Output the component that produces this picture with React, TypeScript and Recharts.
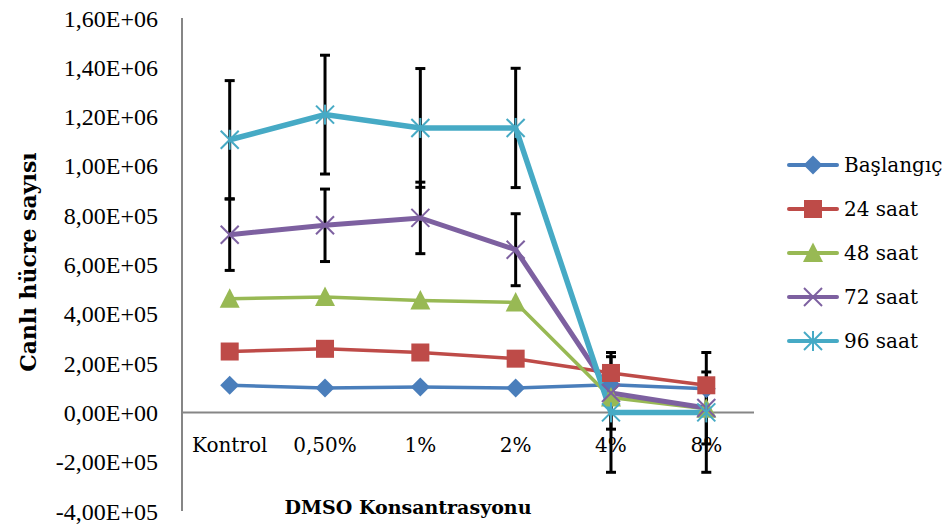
import { LineChart, Line, XAxis, YAxis, ErrorBar, ReferenceLine } from 'recharts';

// ---------------------------------------------------------------------------
// Data
// ---------------------------------------------------------------------------

const categories = ['Kontrol', '0,50%', '1%', '2%', '4%', '8%'];

const baslangic = [110000, 99000, 103000, 99000, 112000, 96000];
const saat24 = [247000, 258000, 243000, 218000, 160000, 110000];
const saat48 = [461000, 468000, 454000, 446000, 60000, 15000];
const saat72 = [721000, 759000, 789000, 660000, 79000, 18000];
const saat96 = [1106000, 1208000, 1154000, 1154000, 0, 0];

// standard deviations (only the 72 h and 96 h series carry error bars)
const sd72 = [145000, 147000, 145000, 146000, 147000, 146000];
const sd96 = [240000, 241000, 241000, 242000, 243000, 243000];

const yTicks = [-400000, -200000, 0, 200000, 400000, 600000, 800000, 1000000, 1200000, 1400000, 1600000];

// ---------------------------------------------------------------------------
// Layout
// ---------------------------------------------------------------------------

const W = 949;
const H = 526;
const X_AXIS_H = 1;
const MARGIN = { top: 18, right: 195, bottom: 14, left: 0 };
const Y_AXIS_W = 182;
const Y_MIN = -400000;
const Y_MAX = 1600000;
const PLOT_H = H - MARGIN.top - MARGIN.bottom - X_AXIS_H;

const TEXT_FONT = '"DejaVu Serif", serif';
const NUM_FONT = '"Liberation Serif", serif';

type MarkerKind = 'diamond' | 'square' | 'triangle' | 'x' | 'star';

interface SeriesDef {
  key: string;
  name: string;
  color: string;
  width: number;
  marker: MarkerKind;
  values: number[];
  sd?: number[];
}

const series: SeriesDef[] = [
  { key: 'b0', name: 'Başlangıç', color: '#4A7EBB', width: 3.5, marker: 'diamond', values: baslangic },
  { key: 'h24', name: '24 saat', color: '#BE4B48', width: 3.5, marker: 'square', values: saat24 },
  { key: 'h48', name: '48 saat', color: '#98B954', width: 3.5, marker: 'triangle', values: saat48 },
  { key: 'h72', name: '72 saat', color: '#7D60A0', width: 5, marker: 'x', values: saat72, sd: sd72 },
  { key: 'h96', name: '96 saat', color: '#46AAC5', width: 5.5, marker: 'star', values: saat96, sd: sd96 },
];

const data = categories.map((conc, i) => {
  const row: Record<string, string | number> = { conc };
  series.forEach(s => {
    row[s.key] = s.values[i];
    if (s.sd) row[`${s.key}_sd`] = s.sd[i];
  });
  return row;
});

// ---------------------------------------------------------------------------
// Helpers
// ---------------------------------------------------------------------------

// Excel style scientific label: 1,60E+06
function formatSci(v: number): string {
  if (v === 0) return '0,00E+00';
  const exp = Math.floor(Math.log10(Math.abs(v)));
  const mant = v / Math.pow(10, exp);
  const sign = exp < 0 ? '-' : '+';
  return `${mant.toFixed(2).replace('.', ',')}E${sign}${String(Math.abs(exp)).padStart(2, '0')}`;
}

function Marker({ kind, cx, cy, color }: { kind: MarkerKind; cx: number; cy: number; color: string }) {
  switch (kind) {
    case 'diamond':
      return <polygon points={`${cx},${cy - 9.5} ${cx + 9.5},${cy} ${cx},${cy + 9.5} ${cx - 9.5},${cy}`} fill={color} />;
    case 'square':
      return <rect x={cx - 9} y={cy - 9} width={18} height={18} fill={color} />;
    case 'triangle':
      return <polygon points={`${cx},${cy - 10.5} ${cx + 10},${cy + 9} ${cx - 10},${cy + 9}`} fill={color} />;
    case 'x':
      return (
        <g stroke={color} strokeWidth={2}>
          <line x1={cx - 9} y1={cy - 9} x2={cx + 9} y2={cy + 9} />
          <line x1={cx - 9} y1={cy + 9} x2={cx + 9} y2={cy - 9} />
        </g>
      );
    case 'star':
      return (
        <g stroke={color} strokeWidth={2}>
          <line x1={cx - 9} y1={cy - 9} x2={cx + 9} y2={cy + 9} />
          <line x1={cx - 9} y1={cy + 9} x2={cx + 9} y2={cy - 9} />
          <line x1={cx} y1={cy - 10} x2={cx} y2={cy + 10} />
        </g>
      );
  }
}

// category labels sit just under the zero line, not at the bottom of the plot
function renderCategoryTick(p: any) {
  const bottom = MARGIN.top + PLOT_H;
  const zeroY = bottom - PLOT_H * ((0 - Y_MIN) / (Y_MAX - Y_MIN));
  return (
    <text
      key={`tick-${p.index}`}
      x={p.x}
      y={zeroY + 40}
      textAnchor="middle"
      fontFamily={TEXT_FONT}
      fontSize={20}
      fill="#000"
    >
      {p.payload.value}
    </text>
  );
}

// ---------------------------------------------------------------------------
// Component
// ---------------------------------------------------------------------------

export default function App() {
  return (
    <div style={{ position: 'absolute', left: 0, top: 0, width: W, height: H, background: '#fff' }}>
      <LineChart width={W} height={H} data={data} margin={MARGIN}>
        <XAxis
          dataKey="conc"
          height={X_AXIS_H}
          axisLine={false}
          tickLine={false}
          tickSize={0}
          tickMargin={0}
          padding={{ left: 47.7, right: 47.7 }}
          tick={renderCategoryTick}
          interval={0}
        />
        <YAxis
          width={Y_AXIS_W}
          domain={[Y_MIN, Y_MAX]}
          ticks={yTicks}
          tickFormatter={formatSci}
          axisLine={{ stroke: '#868686', strokeWidth: 2 }}
          tickLine={false}
          tickSize={0}
          tickMargin={24}
          tick={{ fontFamily: NUM_FONT, fontSize: 24, fill: '#000' }}
          allowDataOverflow
        />
        <ReferenceLine y={0} stroke="#868686" strokeWidth={2} />
        {series.map(s => (
          <Line
            key={s.key}
            type="linear"
            dataKey={s.key}
            name={s.name}
            stroke={s.color}
            strokeWidth={s.width}
            isAnimationActive={false}
            activeDot={false}
            dot={(p: any) => (
              <g key={`${s.key}-${p.index}`}>
                <Marker kind={s.marker} cx={p.cx} cy={p.cy} color={s.color} />
              </g>
            )}
          >
            {s.sd && (
              <ErrorBar dataKey={`${s.key}_sd`} direction="y" width={5} stroke="#000" strokeWidth={3} />
            )}
          </Line>
        ))}
      </LineChart>

      {/* axis titles */}
      <div
        style={{
          position: 'absolute',
          left: 28,
          top: 262,
          transform: 'translate(-50%, -50%) rotate(-90deg)',
          whiteSpace: 'nowrap',
          fontFamily: TEXT_FONT,
          fontWeight: 'bold',
          fontSize: 22,
          lineHeight: '26px',
        }}
      >
        Canlı hücre sayısı
      </div>
      <div
        style={{
          position: 'absolute',
          left: 408,
          top: 507,
          transform: 'translate(-50%, -50%)',
          whiteSpace: 'nowrap',
          fontFamily: TEXT_FONT,
          fontWeight: 'bold',
          fontSize: 19,
          lineHeight: '22px',
        }}
      >
        DMSO Konsantrasyonu
      </div>

      {/* legend */}
      <div style={{ position: 'absolute', left: 787, top: 143 }}>
        {series.map(s => (
          <div key={s.key} style={{ display: 'flex', alignItems: 'center', height: 44 }}>
            <svg width={52} height={24}>
              <line x1={2} y1={12} x2={50} y2={12} stroke={s.color} strokeWidth={4} strokeLinecap="round" />
              <Marker kind={s.marker} cx={26} cy={12} color={s.color} />
            </svg>
            <span style={{ marginLeft: 5, fontFamily: TEXT_FONT, fontSize: 20, lineHeight: '24px', whiteSpace: 'nowrap' }}>
              {s.name}
            </span>
          </div>
        ))}
      </div>
    </div>
  );
}
